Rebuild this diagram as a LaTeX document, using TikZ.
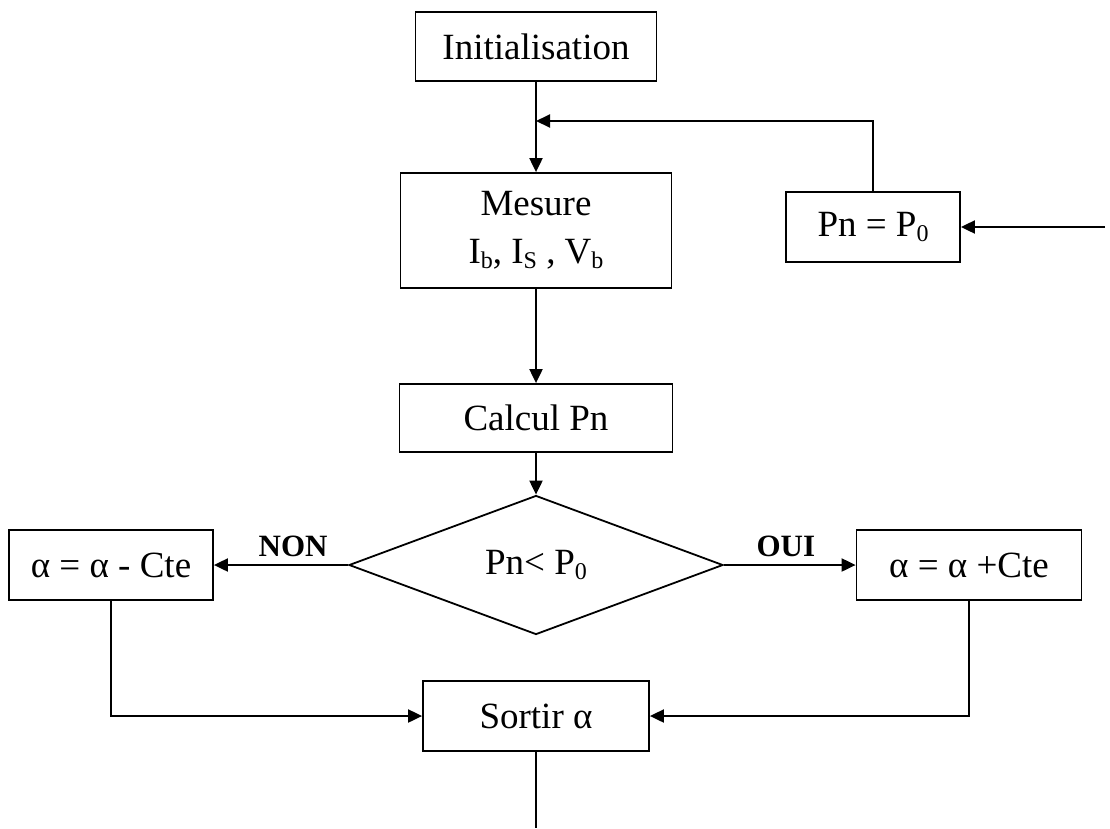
\documentclass[tikz,border=0pt]{standalone}
\usepackage{fontspec}
\setmainfont{Liberation Serif}
\usetikzlibrary{shapes.geometric,arrows.meta}
\newcommand{\indbas}[1]{\raisebox{-0.25ex}{\fontsize{24}{24}\selectfont #1}}

\begin{document}
\begin{tikzpicture}[x=1pt,y=-1pt,line width=2pt,
    every node/.style={font=\fontsize{37}{48}\selectfont},
    bloc/.style={draw,line width=1.8pt,minimum width=#1,minimum height=70pt,inner sep=0pt},
    test/.style={draw,diamond,line width=1.8pt,minimum width=374pt,minimum height=139pt,inner sep=0pt},
    fleche/.style={-{Triangle[length=14pt,width=13pt]}},
    etiq/.style={font=\fontsize{31}{36}\selectfont\bfseries,above=5pt,inner sep=2pt}]
    \useasboundingbox (0,0) rectangle (1110,828);
    % blocs du diagramme
    \node[bloc=241,minimum height=69pt] (init) at (536,46.5) {Initialisation};
    \node[bloc=271,minimum height=115pt,align=center] (mesure) at (536,230.5)
        {Mesure\\I\indbas{b}, I\indbas{S} , V\indbas{b}};
    \node[bloc=174] (pzero) at (873,227) {Pn = P\indbas{0}};
    \node[bloc=273,minimum height=68pt] (calcul) at (536,418) {Calcul Pn};
    \node[test] (comp) at (536,565) {Pn< P\indbas{0}};
    \node[bloc=204] (moins) at (111,565) {α = α - Cte};
    \node[bloc=225] (plus) at (969,565) {α = α +Cte};
    \node[bloc=226] (sortir) at (536,716) {Sortir α};
    % extremites libres
    \coordinate (retour) at (536,121);
    \coordinate (entree) at (1105,227);
    \coordinate (fin) at (536,828);
    % liaisons
    \draw[fleche] (init) -- (mesure);
    \draw[fleche] (pzero.north) |- (retour);
    \draw[fleche] (entree) -- (pzero);
    \draw[fleche] (mesure) -- (calcul);
    \draw[fleche] (calcul) -- (comp);
    \draw[fleche] (comp) -- node[etiq,pos=0.41] {NON} (moins);
    \draw[fleche] (comp) -- node[etiq,pos=0.47] {OUI} (plus);
    \draw[fleche] (moins.south) |- (sortir);
    \draw[fleche] (plus.south) |- (sortir);
    \draw (sortir) -- (fin);
\end{tikzpicture}
\end{document}
